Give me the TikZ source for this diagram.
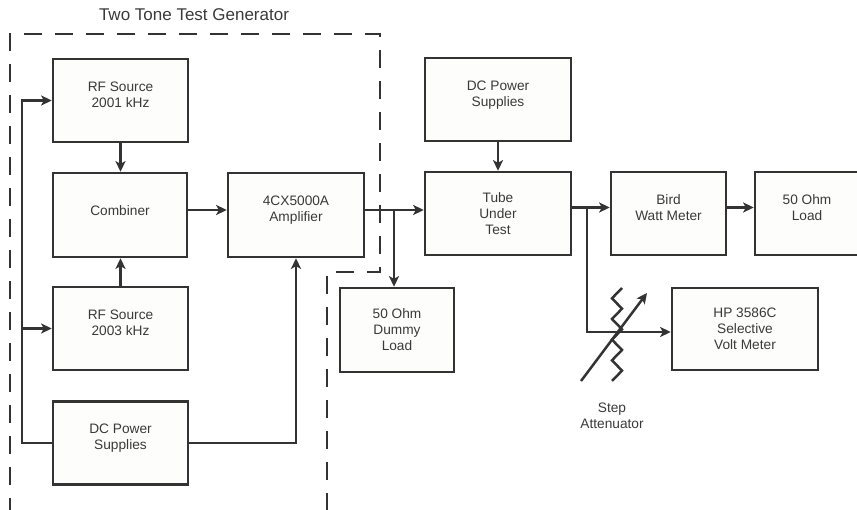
\documentclass[tikz,border=0pt]{standalone}
\usepackage{fontspec}
\setmainfont{Liberation Sans}
\usetikzlibrary{arrows.meta}
\definecolor{ink}{HTML}{333333}
\definecolor{txt}{HTML}{3A3A3A}
\definecolor{paper}{HTML}{FDFDFC}

\begin{document}
\begin{tikzpicture}[x=1pt,y=-1pt,
  box/.style={draw=ink,fill=paper,line width=2.6pt,inner sep=0pt,align=center,text=txt,
    font=\fontsize{13.7}{16}\selectfont,minimum width=135pt,minimum height=83pt},
  lift/.style={text depth=12pt},
  lbl/.style={align=center,text=txt,font=\fontsize{13.7}{16}\selectfont},
  wire/.style={draw=ink,line width=2.5pt},
  arr/.style={wire,-{Stealth[length=10.5pt,width=10pt,inset=2.5pt]}},
  frame/.style={draw=ink,line width=1.3pt,dash pattern=on 18pt off 13pt}]

  \useasboundingbox (0,0) rectangle (857,510);

  \draw[frame] (327,511) -- (327,272) -- (380,272) -- (380,34) -- (10,34) -- (10,511) -- cycle;
  \node[lbl,font=\fontsize{17}{20}\selectfont] (title) at (194,15) {Two Tone Test Generator};

  \node[box,lift] (rfa) at (120.5,100.5) {RF Source\\2001 kHz};
  \node[box,text depth=8pt,minimum width=134pt,minimum height=84pt] (comb) at (120,215) {Combiner};
  \node[box,lift] (rfb) at (120.5,328.5) {RF Source\\2003 kHz};
  \node[box,lift] (dcl) at (120.5,443) {DC Power\\Supplies};
  \node[box,lift,minimum width=136pt,minimum height=84pt] (amp) at (296,215) {4CX5000A\\Amplifier};

  \node[box,lift,minimum width=146pt] (dct) at (498,99.5) {DC Power\\Supplies};
  \node[box,minimum width=146pt] (tube) at (498,213.5) {Tube\\Under\\Test};
  \node[box,minimum width=114pt,minimum height=84pt] (dummy) at (397,330) {50 Ohm\\Dummy\\Load};
  \node[box,lift,minimum width=115pt] (bird) at (668.5,213.5) {Bird\\Watt Meter};
  \node[box,lift,minimum width=104pt] (load) at (807,213.5) {50 Ohm\\Load};
  \node[box,minimum width=146pt,minimum height=82pt] (hp) at (745,329) {HP 3586C\\Selective\\Volt Meter};

  \coordinate (bus) at (22,0);
  \draw[arr] (dcl.west) -| (bus |- rfa.west) -- (rfa.west);
  \draw[arr] (bus |- rfb.west) -- (rfb.west);
  \draw[arr] (dcl.east) -| (amp.south);
  \draw[arr] (rfa.south) -- (rfa.south |- comb.north);
  \draw[arr] (rfb.north) -- (rfb.north |- comb.south);
  \draw[arr] ([yshift=5pt]comb.east) -- ([yshift=5pt]comb.east -| amp.west);

  \coordinate (ampout) at ([yshift=5pt]amp.east);
  \coordinate (ja) at (394,0);
  \draw[arr] (ampout) -- (ampout -| tube.west);
  \draw[arr] (ja |- ampout) -- (ja |- dummy.north);
  \draw[arr] (dct.south) -- (tube.north);

  \coordinate (tubeout) at ([yshift=6pt]tube.east);
  \coordinate (jb) at (587,0);
  \draw[arr] (tubeout) -- (tubeout -| bird.west);
  \draw[arr] (jb |- tubeout) |- ([yshift=-3pt]hp.west);
  \draw[arr] ([yshift=6pt]bird.east) -- ([yshift=6pt]bird.east -| load.west);

  \coordinate (attlo) at (581,381);
  \coordinate (atthi) at (647,293);
  \draw[wire] (622,288) \foreach \k in {1,...,9}{ -- ({617+5*(1-2*mod(\k,2))},{288+10.33*\k}) };
  \draw[arr] (attlo) -- (atthi);
  \node[lbl] (attlbl) at (612,416) {Step\\Attenuator};

\end{tikzpicture}
\end{document}
